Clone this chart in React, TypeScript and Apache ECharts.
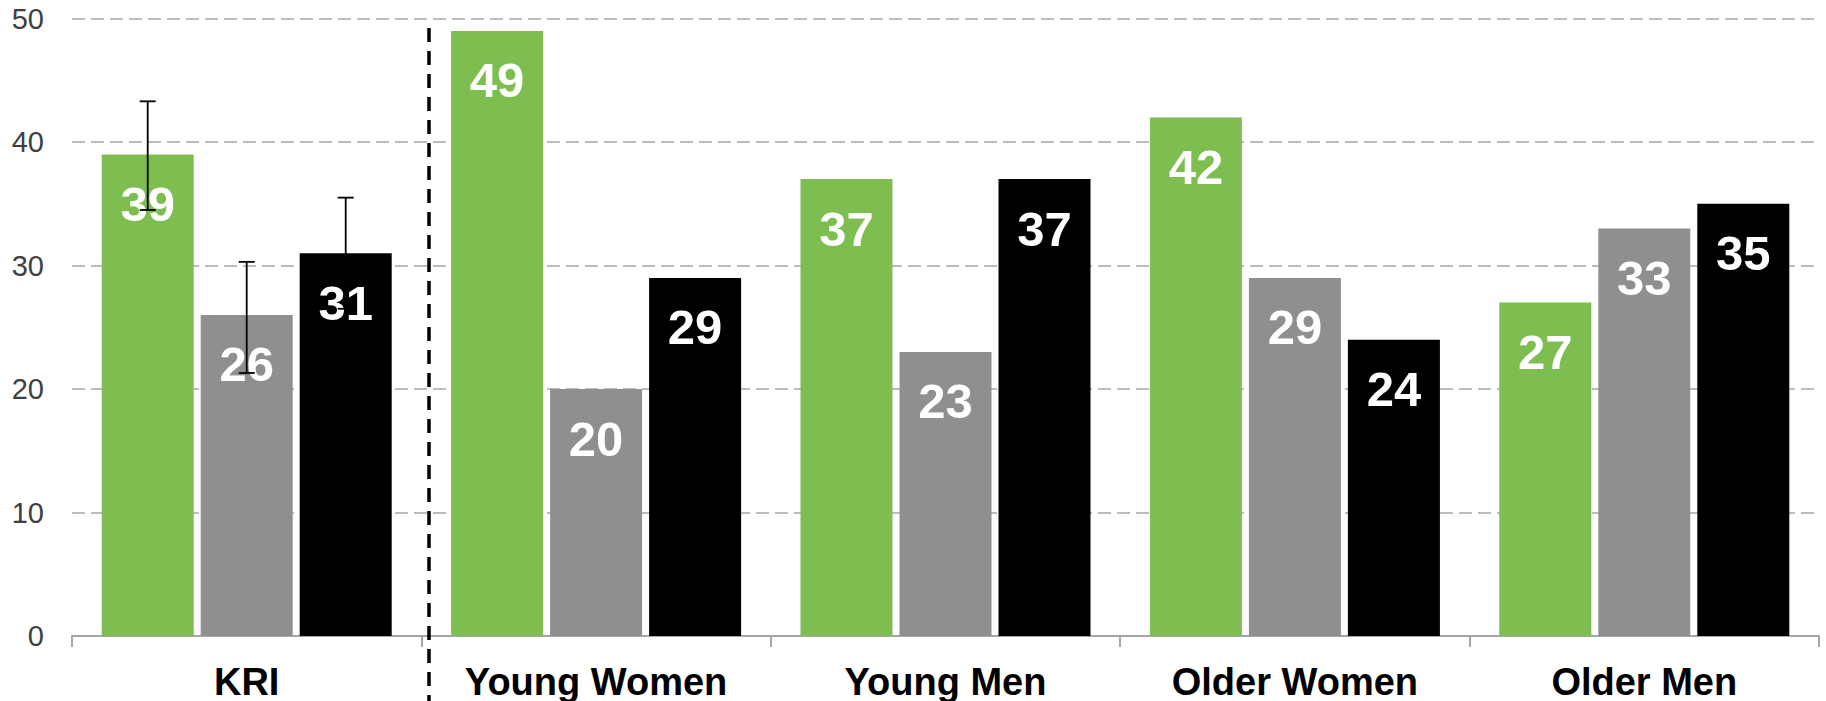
import React, { useEffect, useRef } from "react";
import * as echarts from "echarts";

const categories = ["KRI", "Young Women", "Young Men", "Older Women", "Older Men"];
const greenValues = [39, 49, 37, 42, 27];
const greyValues = [26, 20, 23, 29, 33];
const blackValues = [31, 29, 37, 24, 35];
// error bars (KRI only): [low, high] for green, grey, black
const errLow = [34.5, 21.3, 26.5];
const errHigh = [43.3, 30.3, 35.5];
const yTicks = { min: 0, max: 50, interval: 10 };

const COLORS = ["#7EBD50", "#8F8F8F", "#000000"];
const FONT = "Liberation Sans";
const BAR_CAT_GAP = 0.17;
const BAR_GAP = 0.076;

function makeErrorSeries(idx: number) {
  return {
    type: "custom",
    z: 5,
    silent: true,
    data: [[0, errLow[idx], errHigh[idx]]],
    encode: { x: 0, y: [1, 2] },
    renderItem: (params: any, api: any) => {
      const cat = api.value(0);
      const lo = api.coord([cat, api.value(1)]);
      const hi = api.coord([cat, api.value(2)]);
      const catW = api.size([1, 0])[0];
      const bw = (catW * (1 - BAR_CAT_GAP)) / (3 + 2 * BAR_GAP);
      const x = lo[0] + (idx - 1) * bw * (1 + BAR_GAP);
      const cap = 8;
      const style = { stroke: "#000", lineWidth: 1.8 };
      return {
        type: "group",
        children: [
          { type: "line", shape: { x1: x, y1: lo[1], x2: x, y2: hi[1] }, style },
          { type: "line", shape: { x1: x - cap, y1: hi[1], x2: x + cap, y2: hi[1] }, style },
          { type: "line", shape: { x1: x - cap, y1: lo[1], x2: x + cap, y2: lo[1] }, style },
        ],
      };
    },
  };
}

function barSeries(values: number[], idx: number) {
  return {
    type: "bar",
    data: values,
    barGap: BAR_GAP * 100 + "%",
    barCategoryGap: BAR_CAT_GAP * 100 + "%",
    itemStyle: { color: COLORS[idx] },
    label: {
      show: true,
      position: "insideTop",
      distance: 25,
      color: "#fff",
      fontFamily: FONT,
      fontWeight: "bold",
      fontSize: 49,
    },
  };
}

export default function App() {
  const ref = useRef<HTMLDivElement>(null);
  useEffect(() => {
    if (!ref.current) return;
    const chart = echarts.init(ref.current, undefined, { renderer: "svg" });
    chart.setOption({
      animation: false,
      grid: { left: 72, right: 7, top: 18.6, bottom: 64, containLabel: false },
      xAxis: {
        type: "category",
        data: categories,
        axisLine: { show: true, lineStyle: { color: "#A6A6A6", width: 2 } },
        axisTick: { show: true, length: 11, lineStyle: { color: "#A6A6A6", width: 2 } },
        axisLabel: {
          color: "#000",
          fontFamily: FONT,
          fontWeight: "bold",
          fontSize: 38,
          margin: 27,
          interval: 0,
        },
      },
      yAxis: {
        type: "value",
        min: yTicks.min,
        max: yTicks.max,
        interval: yTicks.interval,
        axisLine: { show: false },
        axisTick: { show: false },
        axisLabel: { color: "#404040", fontFamily: FONT, fontSize: 29, margin: 28 },
        splitLine: { lineStyle: { color: "#A6A6A6", width: 1.5, type: [13, 6] } },
      },
      series: [
        barSeries(greenValues, 0),
        barSeries(greyValues, 1),
        barSeries(blackValues, 2),
        makeErrorSeries(0),
        makeErrorSeries(1),
        makeErrorSeries(2),
      ],
      graphic: [
        {
          type: "line",
          z: 10,
          shape: { x1: 429, y1: 28, x2: 429, y2: 701 },
          style: { stroke: "#000", lineWidth: 3.5, lineDash: [14, 9] },
        },
      ],
    });
    return () => chart.dispose();
  }, []);
  return (
    <div
      ref={ref}
      style={{ position: "fixed", left: 0, top: 0, width: 1826, height: 701, background: "#fff" }}
    />
  );
}
